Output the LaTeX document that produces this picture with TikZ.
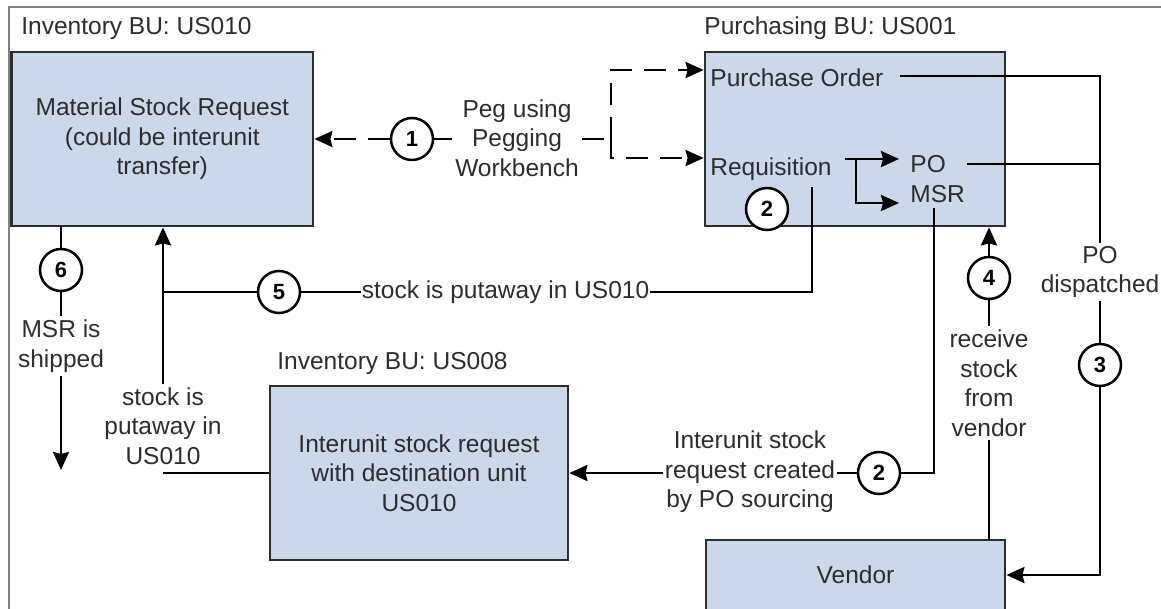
\documentclass[tikz,border=0pt]{standalone}
\usepackage{fontspec}
\setmainfont{Liberation Sans}
\usetikzlibrary{arrows.meta,calc}
\definecolor{boxfill}{RGB}{202,216,234}
\definecolor{boxline}{RGB}{45,45,45}
\definecolor{txt}{RGB}{45,45,45}
\definecolor{framecol}{RGB}{130,130,130}
\begin{document}
\begin{tikzpicture}[x=0.5pt,y=-0.5pt,
  every node/.style={font=\fontsize{12.25pt}{14.75pt}\selectfont, text=txt},
  box/.style={draw=boxline, line width=1.4pt, fill=boxfill, inner sep=0pt, align=center},
  num/.style={circle, draw=black, line width=1.25pt, fill=white, minimum size=21pt, inner sep=0pt,
    font=\fontsize{11pt}{12pt}\selectfont\bfseries, text=black},
  lbl/.style={align=center, inner sep=1.5pt},
  plain/.style={anchor=base west, inner sep=0pt},
  ln/.style={line width=1.3pt, draw=black},
  arr/.style={-{Stealth[length=9pt,width=8pt,inset=1pt]}},
  dsh/.style={dash pattern=on 11pt off 6pt}
]
\useasboundingbox (0,0) rectangle (1161,609);
% frame
\draw[framecol, line width=0.7pt] (9,612) -- (9,7) -- (1164,7);

% boxes
\node[box, minimum width=150.75pt, minimum height=87pt] (msr) at (162.25,139) {Material Stock Request\\(could be interunit\\transfer)};
\node[box, minimum width=150pt, minimum height=87pt] (pur) at (855,139) {};
\node[box, minimum width=149pt, minimum height=87pt] (inter) at (419,473) {Interunit stock request\\with destination unit\\US010};
\node[box, minimum width=149.5pt, minimum height=35pt] (vendor) at (855.5,575) {Vendor};

% titles
\node[plain] (t1) at (21,35) {Inventory BU: US010};
\node[plain] (t2) at (704,35) {Purchasing BU: US001};
\node[plain] (t3) at (277,369) {Inventory BU: US008};

% texts inside purchasing box
\node[plain] (po) at (710,87) {Purchase Order};
\node[plain] (req) at (710,176) {Requisition};
\node[plain] (po2) at (910,173) {PO};
\node[plain] (msr2) at (910,203) {MSR};

% labels
\node[lbl] (peg) at (517,138) {Peg using\\Pegging\\Workbench};
\node[lbl] (pd) at (1100,272) {PO\\dispatched};
\node[lbl] (recv) at (989,383) {receive\\stock\\from\\vendor};
\node[lbl, inner sep=0.5pt] (irc) at (750,472) {Interunit stock\\request created\\by PO sourcing};
\node[lbl] (put3) at (163,426) {stock is\\putaway in\\US010};
\node[lbl] (ship) at (61,346) {MSR is\\shipped};
\node[inner sep=0pt] (put) at (505.5,292) {stock is putaway in US010};

% circles
\node[num] (c1) at (412,139) {1};
\node[num] (c2a) at (767,209) {2};
\node[num] (c2b) at (879,473) {2};
\node[num] (c3) at (1100,365) {3};
\node[num] (c4) at (989,278) {4};
\node[num] (c5) at (279,292) {5};
\node[num] (c6) at (61,270) {6};

% coordinates
\coordinate (sp) at (611,139);
\coordinate (poIn) at (pur.west |- 0,70);
\coordinate (rqIn) at (pur.west |- 0,158);
\coordinate (rq) at (845,159);
\coordinate (rqb) at (856,159);
\coordinate (poA) at (899,159);
\coordinate (msA) at (899,203);
\coordinate (poOut) at (900,76);
\coordinate (po2Out) at (967,164);
\coordinate (msOut) at (934,208);
\coordinate (rqOut) at (812,187);
\coordinate (shipEnd) at (61,470);

% dashed pegging
\draw[ln,dsh,arr] (c1.west) -- (msr.east);
\draw[ln,dsh] (c1.east) -- (peg.west |- c1);
\draw[ln,dsh] (peg.east |- sp) -- (sp);
\draw[ln,dsh,arr] (sp) |- (poIn);
\draw[ln,dsh,arr] (sp) |- (rqIn);

% requisition to PO / MSR
\draw[ln,arr] (rq) -- (poA);
\draw[ln,arr] (rqb) |- (msA);

% PO dispatched
\draw[ln] (poOut) -| (pd.north);
\draw[ln] (po2Out) -- (po2Out -| pd.north);
\draw[ln] (pd.south) -- (c3.north);
\draw[ln,arr] (c3.south) |- (vendor.east);

% receive stock
\draw[ln,arr] (c4.north) -- (c4.north |- pur.south);
\draw[ln] (c4.south) -- (recv.north);
\draw[ln] (recv.south) -- (recv.south |- vendor.north);

% interunit request
\draw[ln] (msOut) |- (c2b.east);
\draw[ln] (c2b.west) -- (irc.east |- c2b);
\draw[ln,arr] (irc.west |- c2b) -- (inter.east);

% putaway
\draw[ln] (rqOut) |- (put.east);
\draw[ln] (put.west) -- (c5.east);
\draw[ln] (c5.west) -- (c5 -| put3.north);
\draw[ln,arr] (put3.north) -- (put3.north |- msr.south);
\draw[ln] (inter.west) -- (inter.west -| put3.south);

% shipped
\draw[ln] (c6.north |- msr.south) -- (c6.north);
\draw[ln] (c6.south) -- (ship.north);
\draw[ln,arr] (ship.south) -- (shipEnd);
\end{tikzpicture}
\end{document}
